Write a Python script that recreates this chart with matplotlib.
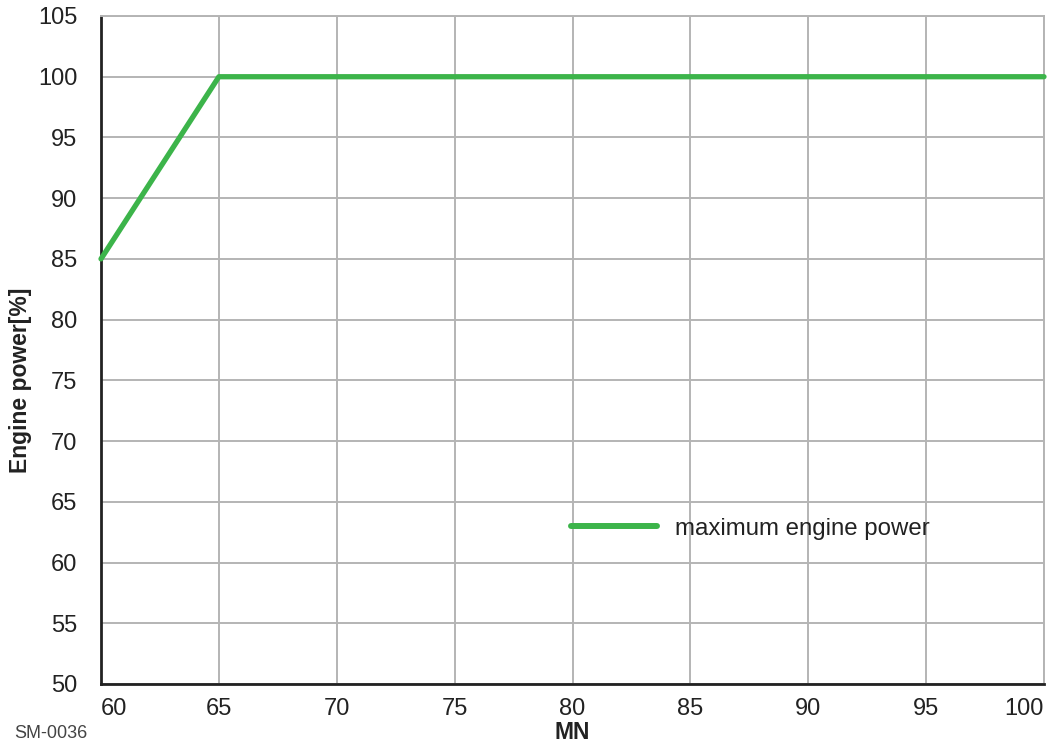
import matplotlib.pyplot as plt
import numpy as np

plt.rcParams['font.family'] = ['Liberation Sans', 'DejaVu Sans']

# data
mn = [60, 65, 100]
power = [85, 100, 100]
x_ticks = [60, 65, 70, 75, 80, 85, 90, 95, 100]
y_ticks = [50, 55, 60, 65, 70, 75, 80, 85, 90, 95, 100, 105]

green = '#3cb44a'
grid_c = '#b4b4b4'
txt_c = '#222222'

fig = plt.figure(figsize=(10.5, 7.44), dpi=100)
ax = fig.add_axes([101 / 1050, 1 - 684 / 744, (1044 - 101) / 1050, (684 - 16) / 744])

ax.plot(mn, power, color=green, lw=3.8, solid_capstyle='round', label='maximum engine power',
        zorder=3, clip_on=False)

ax.set_xlim(60, 100)
ax.set_ylim(50, 105)
ax.set_xticks(x_ticks)
ax.set_yticks(y_ticks)
ax.set_xticklabels([str(v) for v in x_ticks])
ax.set_yticklabels([str(v) for v in y_ticks])
ax.grid(True, color=grid_c, lw=1.4)
ax.set_axisbelow(True)

ax.tick_params(axis='both', length=0, labelsize=17, labelcolor=txt_c)
ax.tick_params(axis='y', pad=17)
ax.tick_params(axis='x', pad=10)
labs = ax.get_xticklabels()
labs[0].set_ha('left')
labs[-1].set_ha('right')

for s in ['top', 'right']:
    ax.spines[s].set_color(grid_c)
    ax.spines[s].set_linewidth(1.4)
for s in ['left', 'bottom']:
    ax.spines[s].set_color('#222222')
    ax.spines[s].set_linewidth(2)

fig.text(20 / 1050, 1 - 380 / 744, 'Engine power[%]', fontsize=16.5, fontweight='bold',
         color=txt_c, rotation=90, ha='center', va='center')
ax.set_xlabel('MN', fontsize=16.5, fontweight='bold', color=txt_c, labelpad=1)

leg = ax.legend(loc='center left', bbox_to_anchor=(0.475, 0.2325), frameon=False,
                fontsize=17.3, handlelength=3.6, handletextpad=0.75)
leg.get_lines()[0].set_linewidth(4.3)
for t in leg.get_texts():
    t.set_color(txt_c)

fig.text(14 / 1050, 1 - 734 / 744, 'SM-0036', fontsize=13, color='#444444', va='center')

fig.savefig('out.png', dpi=100)
